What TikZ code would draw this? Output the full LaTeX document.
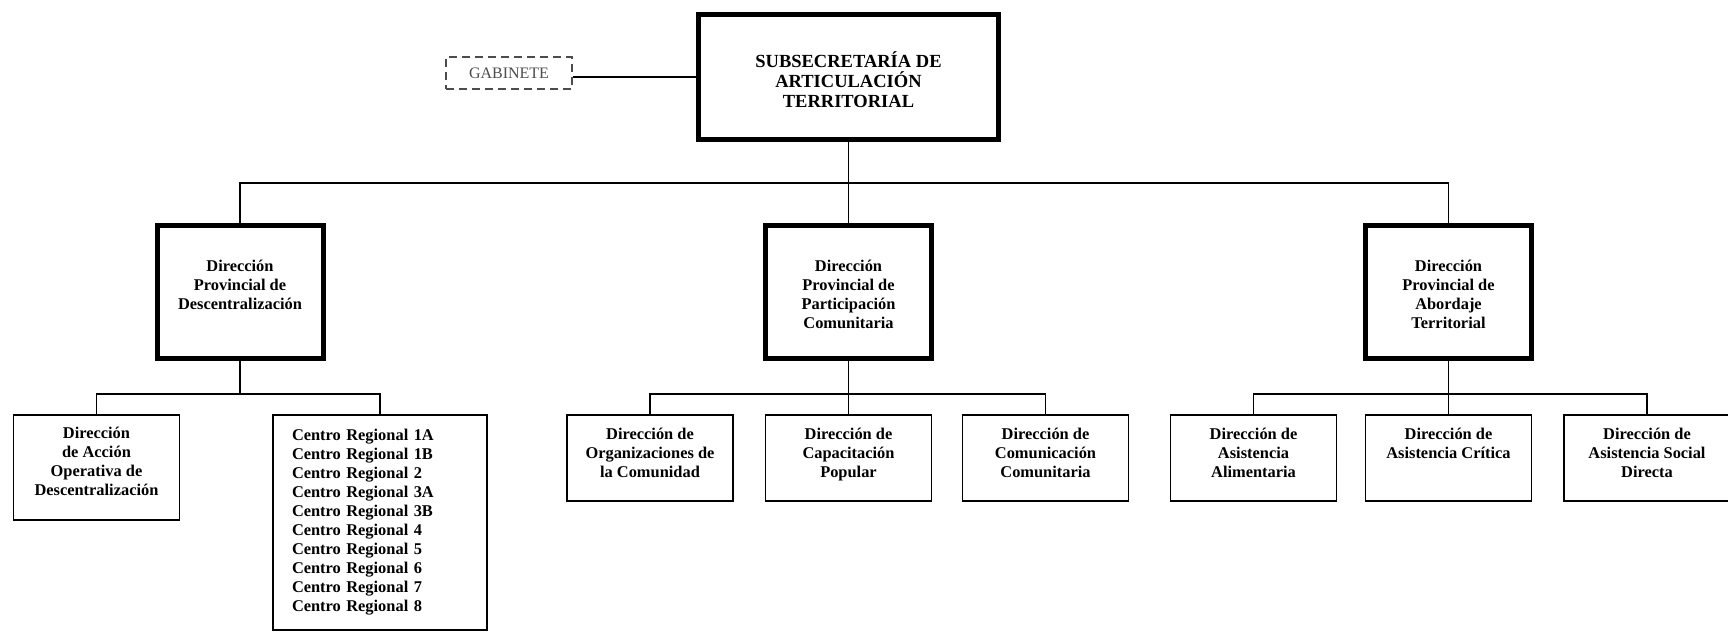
\documentclass[tikz,border=0pt]{standalone}
\usepackage{fontspec}
\setmainfont{Liberation Serif}
\usepackage{tikz}
\newcommand{\caja}[4]{\parbox[c][#2][t]{#1}{\centering\rule{0pt}{#3}#4}}

\begin{document}
\begin{tikzpicture}[x=1pt,y=-1pt,
    jefe/.style={draw,line width=5pt,inner sep=0pt,font=\bfseries\fontsize{18.5}{20}\selectfont},
    direccion/.style={draw,line width=5pt,inner sep=0pt,font=\bfseries\fontsize{16.4}{19}\selectfont},
    area/.style={draw,line width=1.6pt,inner sep=0pt,font=\bfseries\fontsize{16.4}{19}\selectfont},
    gabinete/.style={draw=black!70,text=black!70,dash pattern=on 8pt off 5pt,line width=1.6pt,
      minimum width=126pt,minimum height=32pt,inner sep=0pt,font=\fontsize{16}{19}\selectfont},
    conector/.style={line width=1.2pt}]
      \useasboundingbox (0,0) rectangle (1728,632);

      \node[jefe,anchor=north] (sub) at (848.5,12) {\caja{300pt}{125pt}{53pt}{SUBSECRETARÍA DE\\ARTICULACIÓN\\TERRITORIAL}};
      \node[gabinete] (gab) at (509,73) {GABINETE};

      \node[direccion,anchor=north] (dpd) at (240,223) {\caja{166pt}{133pt}{46pt}{Dirección\\Provincial de\\Descentralización}};
      \node[direccion,anchor=north] (dpp) at (848.5,223) {\caja{166pt}{133pt}{46pt}{Dirección\\Provincial de\\Participación\\Comunitaria}};
      \node[direccion,anchor=north] (dpa) at (1448.5,223) {\caja{166pt}{133pt}{46pt}{Dirección\\Provincial de\\Abordaje\\Territorial}};

      \node[area,anchor=north] (acc) at (96.5,414) {\caja{166pt}{105pt}{24pt}{Dirección\\de Acción\\Operativa de\\Descentralización}};
      \node[area,anchor=north,minimum height=215pt,text width=176pt,inner xsep=19pt,align=left] (cen) at (380,414)
        {Centro Regional 1A\\Centro Regional 1B\\Centro Regional 2\\Centro Regional 3A\\Centro Regional 3B\\
         Centro Regional 4\\Centro Regional 5\\Centro Regional 6\\Centro Regional 7\\Centro Regional 8};

      \node[area,anchor=north] (org) at (650,414) {\caja{166pt}{86pt}{25pt}{Dirección de\\Organizaciones de\\la Comunidad}};
      \node[area,anchor=north] (cap) at (848.5,414) {\caja{166pt}{86pt}{25pt}{Dirección de\\Capacitación\\Popular}};
      \node[area,anchor=north] (com) at (1045.5,414) {\caja{166pt}{86pt}{25pt}{Dirección de\\Comunicación\\Comunitaria}};

      \node[area,anchor=north] (ali) at (1253.5,414) {\caja{166pt}{86pt}{25pt}{Dirección de\\Asistencia\\Alimentaria}};
      \node[area,anchor=north] (cri) at (1448.5,414) {\caja{166pt}{86pt}{25pt}{Dirección de\\Asistencia Crítica}};
      \node[area,anchor=north] (soc) at (1647,414) {\caja{166pt}{86pt}{25pt}{Dirección de\\Asistencia Social\\Directa}};

      \draw[conector] (sub.west) -- (sub.west -| gab.east);
      \draw[conector] (sub.south) -- (dpp.north);
      \draw[conector] (dpd.north) -- ++(0,-40) -| (dpa.north);

      \draw[conector] (dpd.south) -- ++(0,33);
      \draw[conector] (acc.north) -- ++(0,-20) -| (cen.north);
      \draw[conector] (dpp.south) -- (cap.north);
      \draw[conector] (org.north) -- ++(0,-20) -| (com.north);
      \draw[conector] (dpa.south) -- (cri.north);
      \draw[conector] (ali.north) -- ++(0,-20) -| (soc.north);
    \end{tikzpicture}
\end{document}
